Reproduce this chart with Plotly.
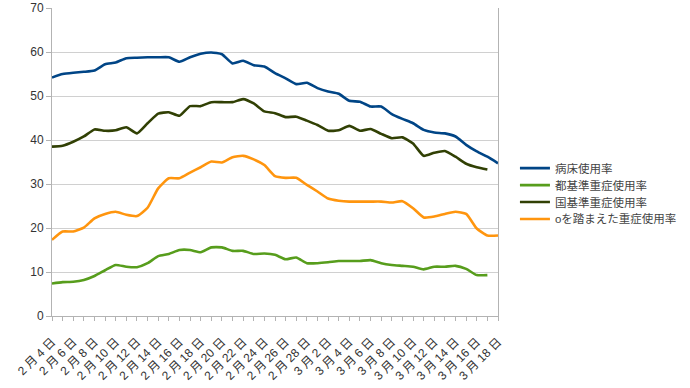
import plotly.graph_objects as go

dates = ["2月4日", "2月5日", "2月6日", "2月7日", "2月8日", "2月9日", "2月10日", "2月11日",
         "2月12日", "2月13日", "2月14日", "2月15日", "2月16日", "2月17日", "2月18日", "2月19日",
         "2月20日", "2月21日", "2月22日", "2月23日", "2月24日", "2月25日", "2月26日", "2月27日",
         "2月28日", "3月1日", "3月2日", "3月3日", "3月4日", "3月5日", "3月6日", "3月7日",
         "3月8日", "3月9日", "3月10日", "3月11日", "3月12日", "3月13日", "3月14日", "3月15日",
         "3月16日", "3月17日", "3月18日"]

names = ["病床使用率", "都基準重症使用率", "国基準重症使用率", "oを踏まえた重症使用率"]

bed = [54.2, 55.0, 55.3, 55.5, 55.8, 57.2, 57.6, 58.6, 58.7, 58.8, 58.8, 58.8, 57.8, 58.8,
       59.6, 59.9, 59.5, 57.4, 58.0, 57.0, 56.7, 55.2, 54.0, 52.7, 53.0, 51.8, 51.0, 50.5,
       48.9, 48.7, 47.6, 47.6, 45.9, 44.8, 43.8, 42.3, 41.7, 41.5, 40.8, 38.9, 37.4, 36.2, 34.7]

tokyo_severe = [7.4, 7.7, 7.8, 8.2, 9.1, 10.4, 11.6, 11.2, 11.1, 12.0, 13.6, 14.1, 15.0, 15.0,
                14.5, 15.6, 15.6, 14.8, 14.8, 14.1, 14.2, 13.9, 12.9, 13.3, 12.0, 12.0, 12.2,
                12.5, 12.5, 12.5, 12.7, 12.0, 11.6, 11.4, 11.2, 10.6, 11.2, 11.2, 11.4, 10.7,
                9.3, 9.3]

national_severe = [38.5, 38.7, 39.6, 40.8, 42.4, 42.1, 42.2, 42.9, 41.5, 43.8, 46.0, 46.3,
                   45.5, 47.7, 47.7, 48.6, 48.6, 48.6, 49.3, 48.3, 46.5, 46.1, 45.2, 45.3,
                   44.4, 43.4, 42.1, 42.2, 43.2, 42.1, 42.5, 41.4, 40.4, 40.6, 39.2, 36.4,
                   37.1, 37.5, 36.2, 34.6, 33.8, 33.3]

o_severe = [17.3, 19.2, 19.2, 20.1, 22.2, 23.2, 23.7, 23.0, 22.7, 24.6, 29.0, 31.3, 31.3,
            32.6, 33.8, 35.1, 34.9, 36.1, 36.4, 35.6, 34.3, 31.8, 31.4, 31.4, 29.8, 28.3,
            26.7, 26.2, 26.0, 26.0, 26.0, 26.0, 25.8, 26.1, 24.5, 22.4, 22.6, 23.2, 23.7,
            23.2, 19.9, 18.3, 18.3]

y_ticks = [0, 10, 20, 30, 40, 50, 60, 70]

series = [bed, tokyo_severe, national_severe, o_severe]
colors = ["#004586", "#579d1c", "#314004", "#ff950e"]
legend_ids = ["legend", "legend2", "legend3", "legend4"]
legend_y = [0.480, 0.425, 0.370, 0.315]

font_family = "Liberation Sans, Noto Sans CJK JP, sans-serif"

fig = go.Figure()
for name, vals, col, lid in zip(names, series, colors, legend_ids):
    fig.add_trace(go.Scatter(
        x=dates[:len(vals)], y=vals, name=name, mode="lines", legend=lid,
        line=dict(color=col, width=2.6, shape="spline", smoothing=0.5),
    ))

tick_text = [d.replace("月", " 月 ").replace("日", " 日") if i % 2 == 0 else ""
             for i, d in enumerate(dates)]

legend_style = dict(x=1.038, xanchor="left", yanchor="middle",
                    font=dict(size=11.5, color="#444444"),
                    bgcolor="rgba(0,0,0,0)", borderwidth=0)

fig.update_layout(
    width=690, height=388,
    margin=dict(l=52, r=192, t=8, b=72),
    paper_bgcolor="white", plot_bgcolor="white",
    font=dict(family=font_family, size=11, color="#333333"),
    showlegend=True,
    legend=dict(y=legend_y[0], **legend_style),
    legend2=dict(y=legend_y[1], **legend_style),
    legend3=dict(y=legend_y[2], **legend_style),
    legend4=dict(y=legend_y[3], **legend_style),
    xaxis=dict(
        type="category", range=[0, len(dates) - 1], automargin=False,
        tickmode="array", tickvals=dates, ticktext=tick_text,
        tickangle=-45, ticks="outside", ticklen=4, tickcolor="#b3b3b3",
        ticklabelstandoff=9,
        showline=True, linecolor="#b3b3b3", linewidth=1,
        showgrid=False, tickfont=dict(size=12, color="#333333"),
    ),
    yaxis=dict(
        range=[0, 70], tickmode="array", tickvals=y_ticks, automargin=False,
        ticks="outside", ticklen=5, tickcolor="#b3b3b3",
        showline=True, linecolor="#b3b3b3", linewidth=1, mirror=True,
        showgrid=True, gridcolor="#d0d0d0", gridwidth=1, zeroline=False,
        tickfont=dict(size=12, color="#333333"),
    ),
)

fig.write_html("out.html", config={"displayModeBar": False},
               post_script="document.body.style.margin='0';")
